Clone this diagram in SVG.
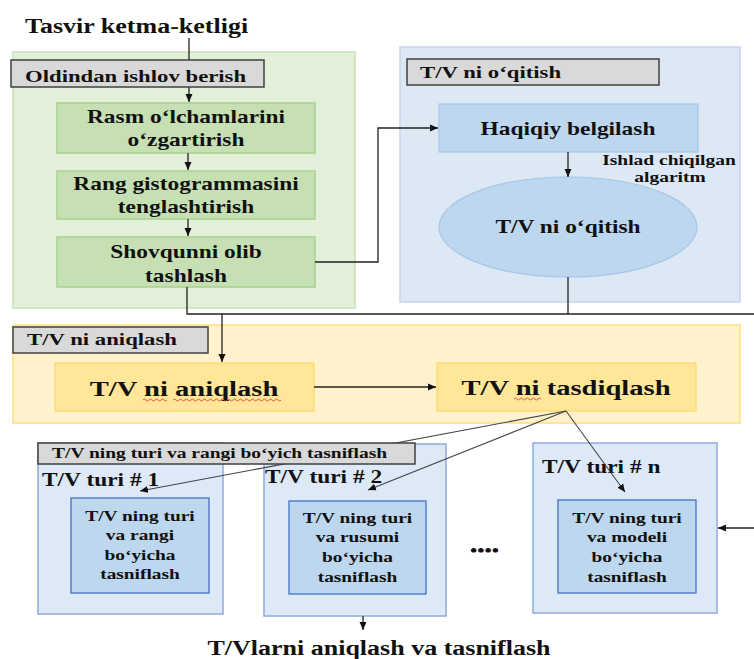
<svg xmlns="http://www.w3.org/2000/svg" width="754" height="659" viewBox="0 0 754 659">
<defs>
<marker id="ah" markerWidth="9" markerHeight="8" refX="8" refY="4" orient="auto" markerUnits="userSpaceOnUse"><path d="M0,0.5 L8,4 L0,7.5 z" fill="#111"/></marker>
<style>
text{font-family:"Liberation Serif","Times New Roman",serif;font-weight:bold;fill:#111}
.m{text-anchor:middle}
.gcont{fill:#e2efd9;stroke:#c9e1b9;stroke-width:1.5}
.gbox{fill:#c6e0b4;stroke:#a9d18e;stroke-width:1.5}
.bcont{fill:#dde8f5;stroke:#c6d6ee;stroke-width:1.5}
.bbox{fill:#bdd7ee;stroke:#a4c6e8;stroke-width:1.2}
.ycont{fill:#fff2cc;stroke:#ffe083;stroke-width:1.5}
.ybox{fill:#ffe699;stroke:#ffd966;stroke-width:1.2}
.tcont{fill:#dde9f6;stroke:#8faadc;stroke-width:1.5}
.tin{fill:#bdd7ee;stroke:#4472c4;stroke-width:1.3}
.lab{fill:#d9d9d9;stroke:#404040;stroke-width:1.5}
.c{fill:none;stroke:#222;stroke-width:1.3}
.f{fill:none;stroke:#444;stroke-width:1.1}
.sq{fill:none;stroke:#e03030;stroke-width:0.8}
</style>
</defs>

<text id="title" transform="translate(25,33) scale(1.3,1)" font-size="20">Tasvir ketma-ketligi</text>

<g id="preprocess">
<rect class="gcont" x="13" y="52" width="342" height="256"/>
</g>
<g id="training">
<rect class="bcont" x="400" y="47" width="340" height="255"/>
</g>
<g id="detection">
<rect class="ycont" x="13" y="325" width="727" height="98"/>
</g>

<g id="resize">
<rect class="gbox" x="57" y="103" width="258" height="50"/>
<text class="m" transform="translate(186,123) scale(1.3,1)" font-size="18">Rasm o‘lchamlarini</text>
<text class="m" transform="translate(186,146) scale(1.3,1)" font-size="18">o‘zgartirish</text>
</g>
<g id="histogram">
<rect class="gbox" x="57" y="171" width="258" height="48"/>
<text class="m" transform="translate(186,190) scale(1.3,1)" font-size="18">Rang gistogrammasini</text>
<text class="m" transform="translate(186,213) scale(1.3,1)" font-size="18">tenglashtirish</text>
</g>
<g id="denoise">
<rect class="gbox" x="57" y="237" width="258" height="50"/>
<text class="m" transform="translate(186,258) scale(1.3,1)" font-size="18">Shovqunni olib</text>
<text class="m" transform="translate(186,282) scale(1.3,1)" font-size="18">tashlash</text>
</g>
<g id="labeling">
<rect class="bbox" x="439" y="104" width="259" height="48"/>
<text class="m" transform="translate(568,135) scale(1.3,1)" font-size="18">Haqiqiy belgilash</text>
</g>
<g id="algo-label">
<text class="m" transform="translate(669,165) scale(1.3,1)" font-size="15">Ishlad chiqilgan</text>
<text class="m" transform="translate(670,182) scale(1.3,1)" font-size="15">algaritm</text>
</g>
<g id="train">
<ellipse class="bbox" cx="568" cy="227" rx="129" ry="50"/>
<text class="m" transform="translate(568,233) scale(1.3,1)" font-size="18">T/V ni o‘qitish</text>
</g>
<g id="detect">
<rect class="ybox" x="55" y="363" width="259" height="48"/>
<text class="m" transform="translate(184,396) scale(1.3,1)" font-size="22">T/V ni aniqlash</text>
<path class="sq" d="M143,400 q1.5,-2 3,0 t3,0 t3,0 t3,0 t3,0 t3,0 t3,0 t3,0"/>
<path class="sq" d="M173,400 q1.5,-2 3,0 t3,0 t3,0 t3,0 t3,0 t3,0 t3,0 t3,0 t3,0 t3,0 t3,0 t3,0 t3,0 t3,0 t3,0 t3,0 t3,0 t3,0 t3,0 t3,0 t3,0 t3,0 t3,0 t3,0 t3,0 t3,0 t3,0 t3,0 t3,0 t3,0 t3,0 t3,0 t3,0 t3,0 t3,0 t3,0"/>
</g>
<g id="verify">
<rect class="ybox" x="437" y="363" width="259" height="48"/>
<text class="m" transform="translate(566,395) scale(1.3,1)" font-size="22">T/V ni tasdiqlash</text>
<path class="sq" d="M514,399 q1.5,-2 3,0 t3,0 t3,0 t3,0 t3,0 t3,0 t3,0 t3,0 t3,0"/>
</g>

<g id="type1">
<rect class="tcont" x="38" y="443" width="185" height="171"/>
<text transform="translate(42,486) scale(1.3,1)" font-size="18">T/V turi # 1</text>
<rect class="tin" x="71" y="498" width="138" height="95"/>
<text class="m" transform="translate(140,521) scale(1.25,1)" font-size="15.5">T/V ning turi</text>
<text class="m" transform="translate(140,540) scale(1.25,1)" font-size="15.5">va rangi</text>
<text class="m" transform="translate(140,560) scale(1.25,1)" font-size="15.5">bo‘yicha</text>
<text class="m" transform="translate(140,579) scale(1.25,1)" font-size="15.5">tasniflash</text>
</g>
<g id="type2">
<rect class="tcont" x="264" y="444" width="182" height="172"/>
<text transform="translate(265,483) scale(1.3,1)" font-size="18">T/V turi # 2</text>
<rect class="tin" x="289" y="501" width="137" height="93"/>
<text class="m" transform="translate(357.5,523) scale(1.25,1)" font-size="15.5">T/V ning turi</text>
<text class="m" transform="translate(357.5,542) scale(1.25,1)" font-size="15.5">va rusumi</text>
<text class="m" transform="translate(357.5,562) scale(1.25,1)" font-size="15.5">bo‘yicha</text>
<text class="m" transform="translate(357.5,582) scale(1.25,1)" font-size="15.5">tasniflash</text>
</g>
<g id="typen">
<rect class="tcont" x="533" y="443" width="184" height="170"/>
<text transform="translate(542,473) scale(1.3,1)" font-size="18">T/V turi # n</text>
<rect class="tin" x="558" y="500" width="138" height="93"/>
<text class="m" transform="translate(627,523) scale(1.25,1)" font-size="15.5">T/V ning turi</text>
<text class="m" transform="translate(627,542) scale(1.25,1)" font-size="15.5">va modeli</text>
<text class="m" transform="translate(627,562) scale(1.25,1)" font-size="15.5">bo‘yicha</text>
<text class="m" transform="translate(627,582) scale(1.25,1)" font-size="15.5">tasniflash</text>
</g>
<g id="dots">
<text transform="translate(470,556) scale(1.3,1)" font-size="16">••••</text>
</g>
<g id="result">
<text class="m" transform="translate(379,655) scale(1.3,1)" font-size="20">T/Vlarni aniqlash va tasniflash</text>
</g>

<g id="connectors">
<path class="c" d="M189,38 V102" marker-end="url(#ah)"/>
<path class="c" d="M188,153 V170" marker-end="url(#ah)"/>
<path class="c" d="M188,219 V236" marker-end="url(#ah)"/>
<path class="c" d="M315,262 H378 V128 H438" marker-end="url(#ah)"/>
<path class="c" d="M568,152 V177" marker-end="url(#ah)"/>
<path class="c" d="M568,277 V314"/>
<path class="c" d="M187,287 V314 H754"/>
<path class="c" d="M222,314 V362" marker-end="url(#ah)"/>
<path class="c" d="M314,387 H436" marker-end="url(#ah)"/>
<path class="f" d="M566,411 L140,491" marker-end="url(#ah)"/>
<path class="f" d="M566,411 L368,490" marker-end="url(#ah)"/>
<path class="f" d="M566,411 L625,492" marker-end="url(#ah)"/>
<path class="c" d="M754,528 H718" marker-end="url(#ah)"/>
<path class="c" d="M363,616 V630" marker-end="url(#ah)"/>
</g>

<g id="label-preprocess">
<rect class="lab" x="11" y="60" width="253" height="27"/>
<text transform="translate(25,82) scale(1.3,1)" font-size="17.5">Oldindan ishlov berish</text>
</g>
<g id="label-training">
<rect class="lab" x="407" y="59" width="252" height="26"/>
<text transform="translate(420,78) scale(1.3,1)" font-size="17.5">T/V ni o‘qitish</text>
</g>
<g id="label-detection">
<rect class="lab" x="13" y="327" width="195" height="26"/>
<text transform="translate(27,345) scale(1.3,1)" font-size="17.5">T/V ni aniqlash</text>
</g>
<g id="label-classify">
<rect class="lab" x="38" y="443" width="377" height="21"/>
<text transform="translate(52,458) scale(1.3,1)" font-size="15">T/V ning turi va rangi bo‘yich tasniflash</text>
</g>
</svg>
